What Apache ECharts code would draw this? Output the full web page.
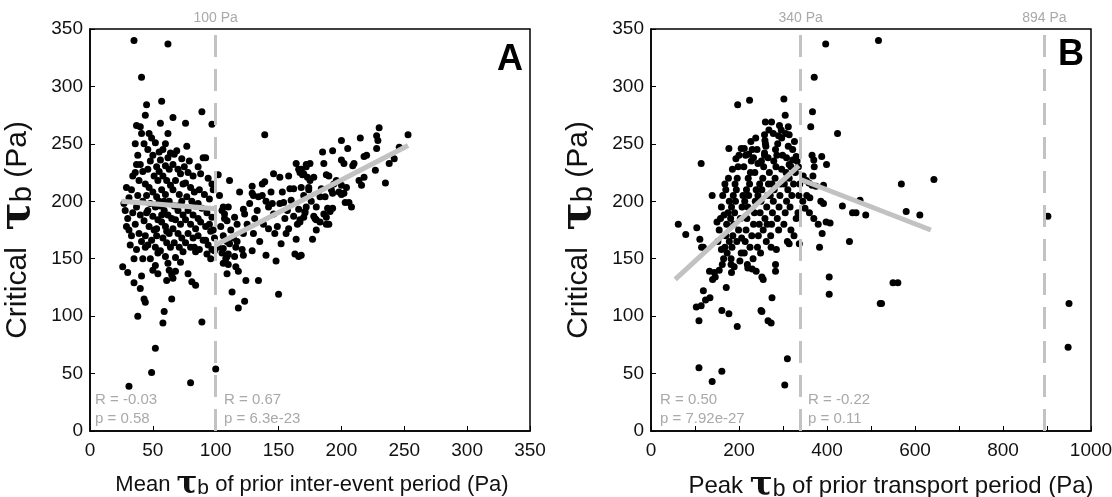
<!DOCTYPE html>
<html><head><meta charset="utf-8">
<script src="https://cdn.jsdelivr.net/npm/echarts@6/dist/echarts.min.js"></script>
<style>html,body{margin:0;padding:0;background:#fff}#c{width:1112px;height:497px}</style>
</head><body><div id="c"></div>
<script>
// Panel A: mean tau_b of prior inter-event period vs critical tau_b
const pointsA = [
[27,198],[28,192],[30,185],[31,203],[29,178],[33,170],[32,162],[34,190],[26,143],[30,138],[35,150],[33,210],[34,222],[29,212],[31,175],[35,129],[31,39],[35,340],
[36,250],[37,266],[40,265],[41,308],[41,259],[38,240],[40,232],[42,226],[36,225],[39,218],[44,215],[38,205],[42,200],[37,195],[40,188],[43,183],[36,180],[39,172],[41,165],[44,160],[37,158],[42,150],[40,124],[41,135],[43,115],[44,112],[38,100],[45,284],[44,275],[43,250],[37,232],[45,205],[45,190],[44,170],
[46,245],[47,259],[49,255],[50,240],[48,235],[52,251],[53,230],[46,228],[51,222],[54,218],[47,212],[50,208],[53,204],[48,198],[52,195],[46,192],[50,187],[54,184],[47,178],[51,175],[53,170],[49,166],[46,162],[52,160],[54,155],[48,150],[52,144],[54,137],[50,140],[49,51],[52,72],[55,243],[55,226],[55,200],[53,176],
[57,287],[56,268],[62,259],[60,250],[58,245],[62,238],[56,236],[60,231],[63,228],[58,222],[61,218],[64,214],[57,210],[60,206],[63,200],[56,196],[59,192],[62,188],[65,185],[57,182],[60,178],[63,172],[58,168],[61,164],[64,160],[56,157],[60,152],[62,146],[58,94],[59,104],[62,337],[64,242],[59,200],[61,174],[63,140],[65,136],[61,131],[65,115],[57,188],
[66,273],[67,241],[69,244],[73,237],[66,232],[70,228],[72,224],[68,218],[74,215],[66,210],[71,206],[73,200],[67,196],[70,192],[74,188],[68,184],[72,180],[66,176],[70,172],[73,168],[67,164],[71,160],[74,156],[68,151],[72,147],[68,139],[66,133],[70,196],
[76,268],[77,248],[79,235],[75,230],[78,225],[82,222],[76,216],[80,212],[83,208],[77,204],[81,200],[84,196],[78,192],[82,188],[76,184],[80,180],[84,176],[78,172],[82,168],[76,164],[80,160],[84,156],[78,137],[81,130],[84,127],[80,42],[83,160],
[89,278],[97,267],[92,238],[90,238],[86,230],[88,224],[94,220],[97,215],[87,210],[91,206],[95,202],[98,210],[86,198],[89,194],[93,190],[97,186],[88,182],[92,178],[96,174],[86,170],[90,166],[94,162],[99,168],[87,158],[93,154],[97,158],[89,95],[92,166],[95,180],[100,54],[98,175],[96,150],[99,157],[86,185],
[102,223],[111,218],[119,208],[109,137],[113,121],[118,107],[123,113],[124,131],[118,139],[103,205],[105,192],[107,185],[104,178],[106,170],[109,165],[102,160],[105,155],[108,150],[110,145],[112,175],[114,168],[116,160],[115,152],[122,172],[121,158],[116,143],
[106,146],[109,152],[110,154],[106,159],[111,163],[117,165],[122,153],[129,157],[135,165],[140,153],[148,148],[152,163],[163,154],[166,152],[164,167],[165,180],
[129,213],[129,207],[137,215],[139,217],[145,198],[151,198],[154,199],[157,192],[166,193],[162,187],[167,182],[122,193],[123,189],[127,198],[130,205],[134,204],[137,205],[110,195],[106,195],[107,189],[109,183],[115,186],[117,180],[125,180],[146,189],[142,195],[159,211],[162,211],[164,233],[166,228],[168,226],[172,232],[169,223],[173,221],
[139,258],[151,221],[134,131],[150,119],[131,185],[138,180],[142,176],[147,172],[130,172],[149,178],[144,208],[146,224],[140,200],[133,192],[156,172],[158,176],[171,190],[174,210],[168,212],[160,201],[153,208],[158,222],[170,205],[155,185],
[230,264],[253,258],[228,257],[229,253],[228,246],[215,255],[200,253],[193,244],[185,243],[205,246],[246,247],[242,237],[238,233],[220,240],[218,239],[200,236],[202,233],[209,231],[210,233],[175,233],[172,230],[168,228],[170,224],[167,225],[188,223],[190,222],[178,221],[175,218],[174,212],[227,227],[235,216],[214,218],[216,214],[218,221],[200,214],[198,208],[202,207],[200,206],[194,215],[192,210],[193,207],[187,204],[184,211],[183,204],[206,199],[208,195],[203,199],[189,194],[193,194],[191,191],[186,189],[188,186],[190,180],[188,180],[183,182],[180,184],[179,185],[178,187],[180,175],[177,167],[172,195],[171,191],[170,186],[167,184],[168,153],[196,218],[186,233],[204,212],[176,200],[180,195]
];
// Panel B: peak tau_b of prior transport period vs critical tau_b
const pointsB = [
[62,180],[79,171],[104,177],[111,167],[115,160],[119,160],[114,233],[103,108],[114,109],[109,96],[109,55],[119,122],[124,114],[134,116],[133,139],[144,138],[140,132],[146,134],[139,205],[139,43],[161,52],[161,105],[177,102],[196,91],[171,125],[182,145],[183,138],[168,215],
[220,142],[230,141],[239,139],[252,134],[255,132],[250,105],[252,104],[266,96],[273,94],[275,116],[283,139],[283,145],[314,163],[310,63],[304,40],[337,163],
[383,160],[389,172],[451,165],[405,134],[405,119],[521,111],[397,337],[517,340],[371,308],[367,278],[363,265],[424,259],[366,240],[370,236],[388,239],[399,232],[371,230],[368,222],[346,222],[353,218],[359,216],[366,214],[375,213],[392,214],[354,205],[361,203],[386,200],[392,198],[435,196],[458,190],[466,190],[475,201],[488,188],[569,215],[643,219],[580,191],[611,188],[550,129],[561,129],[524,111],[380,180],[398,182],[407,181],[370,185],[360,190],[350,194],[345,200],
[902,187],[950,111],[948,73],
[197,284],[224,288],[302,289],[305,275],[260,269],[274,269],[292,266],[312,265],[306,259],[314,258],[278,259],[290,257],[297,255],[258,258],[259,253],[261,248],[258,242],[177,246],[205,246],[212,246],[222,241],[233,238],[243,233],[308,238],[314,232],[322,236],[330,239],[335,230],
[152,165],[155,175],[158,185],[160,195],[163,205],[165,150],[168,160],[170,170],[172,180],[175,190],[178,200],[155,140],[162,145],[170,210],[176,220],[173,155],[160,158],[166,188],[150,182],[178,165],
[182,150],[184,160],[186,170],[188,180],[190,190],[192,200],[194,210],[196,220],[198,230],[200,240],[183,195],[187,205],[191,215],[195,165],[199,175],[203,185],[205,155],[207,195],[209,205],[185,228],[202,148],[189,143],[206,168],[193,237],[181,185],
[212,155],[214,165],[216,175],[218,185],[220,195],[222,205],[224,215],[226,225],[228,235],[230,245],[213,200],[217,210],[221,220],[225,160],[229,170],[233,180],[235,190],[237,200],[239,210],[211,230],[215,240],[232,150],[236,225],[238,255],[227,252],[219,145],
[242,160],[244,170],[246,180],[248,190],[250,200],[252,210],[254,220],[256,230],[258,240],[260,250],[243,205],[247,215],[251,235],[255,175],[259,185],[263,195],[265,205],[267,215],[269,225],[241,245],[262,165],[266,238],[268,262],[249,155],[264,180],
[272,170],[274,180],[276,190],[278,200],[280,210],[282,220],[284,230],[286,240],[288,250],[271,205],[275,215],[279,235],[283,245],[287,185],[291,195],[293,205],[295,215],[297,228],[299,240],[273,160],[290,175],[296,262],[285,158],
[302,180],[305,190],[308,200],[311,210],[314,220],[318,230],[322,245],[326,252],[303,215],[307,225],[312,248],[316,195],[320,205],[324,215],[328,225],[332,235],[336,205],[330,185],[318,175],[310,165],[338,215],[334,190],[325,170]
];
// Piecewise fits
const fitA1 = [[25,200],[100,193.5]];
const fitA2 = [[100,162],[253,248.5]];
const fitB1 = [[55,132],[336,231]];
const fitB2 = [[340,219],[636,175]];
// Threshold lines
const thresholdsA = [100];
const thresholdsB = [340, 894];
// Stats text
const statsA = [['R = -0.03','p = 0.58'],['R = 0.67','p = 6.3e-23']];
const statsB = [['R = 0.50','p = 7.92e-27'],['R = -0.22','p = 0.11']];

const FONT = 'Liberation Sans, Arial, Helvetica, sans-serif';
const GRAY = '#a9a9a9';
const LINEGRAY = '#c2c2c2';

function richName(size) {
  return {
    n: {fontSize: size, fontFamily: FONT, color: '#111'},
    t: {fontSize: Math.round(size * 1.4), fontFamily: 'DejaVu Serif', fontWeight: 'bold', color: '#111'},
    s: {fontSize: Math.round(size * 0.95), fontFamily: FONT, color: '#111', padding: [Math.round(size * 0.3), 0, 0, 0]}
  };
}
function xAxisCfg(idx, max, interval, nameMain, nameRest, labelEvery, nameSize, nameGap, namePad) {
  return {
    gridIndex: idx, type: 'value', min: 0, max: max, interval: interval,
    axisLine: {show: true, onZero: false, lineStyle: {color: '#000', width: 1.5}},
    axisTick: {show: true, inside: true, length: 5, lineStyle: {color: '#000', width: 1}},
    splitLine: {show: false},
    axisLabel: {fontSize: 19, color: '#111', margin: 10, fontFamily: FONT,
      formatter: v => (v % labelEvery === 0 ? String(v) : '')},
    name: '{n|' + nameMain + ' }{t|τ}{s|b}{n| ' + nameRest + '}',
    nameLocation: 'middle', nameGap: nameGap,
    nameTextStyle: {fontFamily: FONT, color: '#111', padding: namePad, rich: richName(nameSize)}
  };
}
function yAxisCfg(idx) {
  return {
    gridIndex: idx, type: 'value', min: 0, max: 350, interval: 50,
    axisLine: {show: true, onZero: false, lineStyle: {color: '#000', width: 1.5}},
    axisTick: {show: true, inside: true, length: 5, lineStyle: {color: '#000', width: 1}},
    splitLine: {show: false},
    axisLabel: {fontSize: 19, color: '#111', margin: 7, fontFamily: FONT},
    name: '{n|Critical  }{t|τ}{s|b}{n| (Pa)}',
    nameLocation: 'middle', nameGap: 51,
    nameTextStyle: {fontFamily: FONT, color: '#111', rich: richName(30)}
  };
}
function thresholdSeries(idx, vals) {
  return {
    type: 'line', xAxisIndex: idx, yAxisIndex: idx, data: [], silent: true, z: 4,
    markLine: {
      symbol: ['none', 'none'], silent: true, animation: false,
      lineStyle: {color: LINEGRAY, width: 3, type: [22, 12]},
      label: {show: true, position: 'end', distance: 4, color: GRAY, fontSize: 14, fontFamily: FONT,
        formatter: p => p.value + ' Pa'},
      data: vals.map(v => ({xAxis: v}))
    }
  };
}
function fitSeries(idx, data) {
  return {type: 'line', xAxisIndex: idx, yAxisIndex: idx, data: data, symbol: 'none', z: 5,
    lineStyle: {color: LINEGRAY, width: 5, cap: 'butt'}, silent: true};
}
function scatterSeries(idx, data) {
  return {type: 'scatter', xAxisIndex: idx, yAxisIndex: idx, data: data, symbolSize: 7,
    itemStyle: {color: '#000', opacity: 1}, z: 3, silent: true};
}
function statText(x, lines) {
  return [
    {type: 'text', left: x, top: 392, style: {text: lines[0], fill: GRAY, fontSize: 15, fontFamily: FONT}},
    {type: 'text', left: x, top: 411, style: {text: lines[1], fill: GRAY, fontSize: 15, fontFamily: FONT}}
  ];
}

const chart = echarts.init(document.getElementById('c'), null, {renderer: 'canvas'});
chart.setOption({
  animation: false,
  backgroundColor: '#fff',
  grid: [
    {left: 90, top: 29, width: 440, height: 402, show: true, borderColor: '#000', borderWidth: 1.5, backgroundColor: 'transparent', containLabel: false, outerBoundsMode: 'none'},
    {left: 651, top: 29, width: 440, height: 402, show: true, borderColor: '#000', borderWidth: 1.5, backgroundColor: 'transparent', containLabel: false, outerBoundsMode: 'none'}
  ],
  xAxis: [
    xAxisCfg(0, 350, 50, 'Mean', 'of prior inter-event period (Pa)', 50, 22, 38, [0, 0, 0, 4]),
    xAxisCfg(1, 1000, 100, 'Peak', 'of prior transport period (Pa)', 200, 24, 38, [0, 0, 0, 40])
  ],
  yAxis: [yAxisCfg(0), yAxisCfg(1)],
  series: [
    scatterSeries(0, pointsA),
    scatterSeries(1, pointsB),
    thresholdSeries(0, thresholdsA),
    thresholdSeries(1, thresholdsB),
    fitSeries(0, fitA1), fitSeries(0, fitA2),
    fitSeries(1, fitB1), fitSeries(1, fitB2)
  ],
  graphic: [
    ...statText(95, statsA[0]), ...statText(224, statsA[1]),
    ...statText(660, statsB[0]), ...statText(808, statsB[1]),
    {type: 'text', right: 1112 - 523, top: 42, style: {text: 'A', fill: '#000', fontSize: 36, fontWeight: 'bold', fontFamily: FONT}},
    {type: 'text', right: 1112 - 1084, top: 37, style: {text: 'B', fill: '#000', fontSize: 36, fontWeight: 'bold', fontFamily: FONT}}
  ]
});
</script>
</body></html>
